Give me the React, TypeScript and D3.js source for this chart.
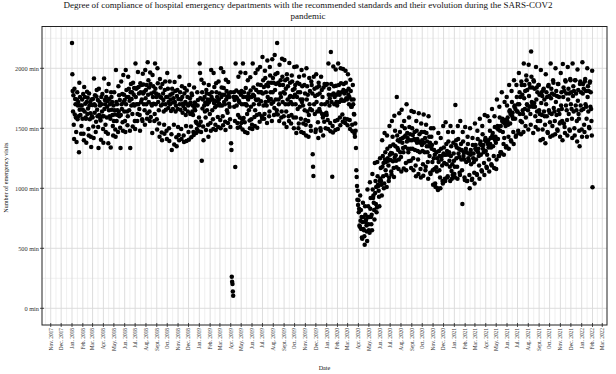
import React from "react";
import * as d3 from "d3";

// Daily emergency visits, one array per month (Jan..Dec)
const visits2018: number[][] = [
  [2210,1950,1810,1640,1775,1530,1410, 1830,1615,1745,1700,1590,1470,1385, 1740,1800,1575,1690,1720,1600,1300, 1880,1655,1760,1610,1690,1455,1520, 1690,1740,1580],
  [1655,1785,1455,1400, 1845,1640,1760,1705,1590,1580,1380, 1720,1805,1620,1755,1665,1495,1440, 1790,1690,1575,1720,1625,1430,1345, 1740,1600,1695],
  [1590,1745,1515,1420, 1915,1700,1630,1775,1690,1470,1555, 1765,1820,1655,1600,1735,1510,1335, 1830,1610,1720,1690,1580,1565,1405, 1760,1700,1640,1785,1600,1495],
  [1380, 1600,1915,1660,1735,1700,1530,1470, 1760,1810,1590,1680,1725,1455,1375, 1870,1650,1745,1600,1700,1580,1340, 1800,1760,1655,1720,1610,1520,1440, 1690],
  [1560,1800,1650,1615,1490,1430, 1985,1720,1560,1700,1650,1610,1470, 1850,1640,1775,1600,1735,1505,1335, 1610,1890,1700,1660,1785,1550,1480, 1945,1720,1780,1640],
  [1735,1560,1470, 1985,1700,1820,1760,1640,1525,1600, 1930,1760,1830,1650,1730,1480,1335, 1800,1870,1690,1745,1800,1620,1515, 1880,1700,1780,1835,1690,1560],
  [1495, 2040,1760,1830,1700,1835,1560,1620, 1970,1700,1845,1790,1660,1610,1480, 1875,1800,1720,1860,1740,1575,1560, 1955,1790,1865,1700,1805,1650,1530, 1985,1750],
  [1820,1700,1860,1580,1625, 2050,1780,1900,1720,1840,1640,1560, 1965,1870,1595,1790,1700,1690,1460, 1945,1760,1850,1705,1800,1560,1620, 2040,1830,1700,1790,1760],
  [1575,1490, 2000,1875,1720,1780,1650,1540,1430, 1910,1760,1840,1690,1755,1465,1400, 1870,1700,1790,1735,1640,1530,1455, 1820,1890,1700,1655,1760,1480,1410],
  [1960,1760,1830,1670,1720,1500,1395, 1890,1700,1780,1740,1645,1450,1320, 1830,1790,1660,1715,1750,1530,1365, 1885,1720,1810,1640,1690,1425,1350, 1770,1820,1660],
  [1510,1745,1445,1400, 1930,1700,1800,1655,1740,1495,1410, 1850,1760,1630,1705,1685,1440,1385, 1790,1835,1660,1720,1610,1520,1395, 1815,1700,1760,1640,1690],
  [1470,1405, 1860,1700,1750,1620,1715,1515,1425, 1790,1775,1640,1690,1610,1470,1445, 1840,1670,1715,1650,1700,1555,1460, 1545,1495,1800,1690,1735,1530,1475, 1590],
];

const visits2019: number[][] = [
  [1525,2040,1960,1750,1555,1470, 1905,1230,1800,1665,1740,1515,1400, 1875,1690,1760,1640,1715,1590,1485, 1820,1790,1650,1700,1740,1530,1430, 1860,1720,1785,1620],
  [1735,1545,1480, 1985,1760,1800,1650,1740,1575,1495, 1960,1710,1845,1730,1675,1530,1485, 1875,1800,1690,1760,1725,1595,1510, 1890,1740,1705,1790],
  [1690,1570,1500, 2000,1760,1840,1690,1780,1600,1525, 1970,1835,1720,1780,1700,1555,1485, 1905,1740,1810,1650,1760,1630,1545, 1885,1790,1705,1760,1680,1575,1510],
  [1800,1375,1320,263,222,202,139, 105,1760,1800,1680,1735,1560,1177, 2040,1760,1815,1690,1750,1545,1505, 1610,1930,1730,1800,1715,1590,1510, 1965,1780],
  [1545,1810,1700,1575,1490, 2040,1760,1585,1800,1700,1550,1470, 1960,1835,1700,1760,1690,1620,1460, 1900,1740,1790,1650,1760,1565,1500, 1925,1815,1680,1575,1760],
  [1530,1495, 2040,1780,1840,1700,1770,1595,1520, 1650,1960,1740,1820,1735,1610,1505, 1990,1865,1740,1800,1700,1620,1555, 2010,1800,1860,1725,1800,1600,1580],
  [2095,1790,1900,1690,1845,1580,1620, 1980,1920,1720,1800,1860,1690,1545, 2065,1760,1850,1880,1730,1600,1640, 2010,1940,1800,1745,1880,1705,1560, 2075,1800,1920],
  [1720,1880,1610,1670, 2110,1820,1950,1740,1870,1620,1650, 2210,1960,1615,1880,1740,1700,1560, 2030,1860,1790,1900,1760,1590,1640, 2080,1930,1720,1860,1800,1600],
  [1540, 2070,1790,1900,1700,1830,1640,1510, 1950,1910,1740,1850,1700,1600,1560, 2045,1760,1880,1770,1720,1540,1610, 1940,1890,1700,1820,1760,1590,1500, 2010],
  [1830,1780,1860,1700,1590,1460, 2015,1760,1880,1660,1800,1500,1540, 1930,1870,1680,1800,1740,1580,1470, 1985,1720,1850,1740,1690,1540,1460, 1940,1860,1650,1790],
  [1570,1530,1440, 2000,1740,1850,1640,1780,1560,1430, 1610,1920,1700,1810,1660,1520,1480, 1890,1860,1650,1790,1283,1180,1102, 1930,1700,1830,1620,1770,1470],
  [1490, 1950,1720,1840,1640,1780,1550,1420, 1880,1850,1660,1790,1640,1500,1480, 1930,1700,1820,1620,1760,1590,1440, 1840,1610,1555,1870,1700,1620,1500, 1860,1630],
];

const visits2020: number[][] = [
  [1610,1870,1720,1570,1495, 2040,1780,1830,1690,1750,1545,1475, 2135,1870,1720,1780,1097,1520,1465, 2015,1790,1850,1700,1760,1560,1485, 1990,1855,1720,1780,1690],
  [1570,1495, 2040,1800,1860,1720,1780,1590,1525, 2000,1875,1740,1800,1730,1615,1555, 1995,1820,1870,1730,1790,1580,1545, 1980,1880,1750,1810,1740,1575],
  [1525, 1950,1780,1830,1700,1760,1570,1495, 1905,1810,1680,1740,1680,1530,1475, 1860,1700,1740,1620,1615,1455,1430, 1540,1480,1335,1150,1095,1020,905, 980,860],
  [900,800,830,690,680, 940,730,820,660,760,590,580, 720,880,660,760,650,600,530, 850,780,720,740,690,640,560, 990,760,850,700],
  [650,760,630, 1050,830,920,760,700,780,650, 1120,990,920,940,880,820,740, 1210,960,1060,870,1010,800,840, 1220,1100,1030,1020,980,930,850],
  [1060,1250,1080,1170,1060,1030,940, 1400,1180,1270,1100,1210,1000,1040, 1460,1240,1300,1150,1220,1110,1010, 1440,1330,1250,1230,1190,1060,1090, 1520,1280],
  [1350,1235,1295,1140,1115, 1560,1290,1430,1225,1365,1170,1095, 1605,1255,1480,1350,1275,1230,1175, 1760,1440,1335,1400,1320,1160,1240, 1625,1390,1470,1300,1410],
  [1260,1140, 1655,1520,1380,1420,1335,1300,1165, 1560,1430,1500,1345,1440,1210,1150, 1700,1390,1460,1420,1330,1300,1225, 1590,1510,1400,1450,1330,1230,1170, 1645],
  [1400,1500,1330,1445,1250,1150, 1635,1410,1470,1320,1400,1190,1100, 1560,1480,1380,1410,1310,1240,1120, 1625,1390,1450,1300,1380,1160,1090, 1540,1470,1360],
  [1400,1310,1200,1105, 1615,1380,1470,1300,1420,1150,1180, 1530,1460,1350,1390,1300,1220,1080, 1600,1350,1430,1270,1380,1130,1120, 1500,1430,1330,1360,1220,1150],
  [1030, 1500,1250,1320,1160,1280,1040,1010, 1380,1175,1300,1140,1250,1000,985, 1460,1220,1310,1150,1270,1090,1000, 1420,1330,1240,1270,1190,1060,1040, 1520],
  [1290,1340,1210,1280,1080,1060, 1550,1280,1370,1200,1310,1090,1100, 1470,1390,1280,1300,1230,1180,1060, 1520,1270,1350,1145,1080,1200,1110, 1470,1380,1290,1230],
];

const visits2021: number[][] = [
  [1120,1180,1090, 1695,1360,1400,1250,1340,1180,1080, 1520,1410,1290,1330,1260,1130,1110, 1560,1320,1370,1240,1320,1150,870, 1470,1390,1270,1300,1240,1090,1070],
  [1510,1300,1330,1220,1300,1060,1060, 1430,1370,1250,1290,1230,1110,1000, 1500,1280,1320,1200,1290,1070,1080, 1420,1360,1250,1290,1220,1130,1040],
  [1540,1330,1360,1240,1320,1120,1110, 1480,1410,1300,1330,1270,1190,1080, 1580,1370,1390,1280,1360,1150,1140, 1520,1450,1330,1360,1300,1210,1110, 1610,1400,1420],
  [1310,1390,1180,1170, 1280,1600,1370,1400,1340,1240,1140, 1560,1480,1370,1420,1340,1200,1190, 1660,1440,1460,1350,1420,1270,1170, 1600,1510,1400,1430,1380],
  [1160,1240, 1740,1500,1520,1410,1490,1270,1270, 1680,1590,1480,1300,1520,1300,1290, 1800,1560,1580,1470,1550,1370,1280, 1420,1720,1540,1570,1520,1340,1350, 1760],
  [1690,1560,1590,1530,1430,1330, 1860,1640,1650,1540,1620,1400,1390, 1810,1720,1600,1630,1580,1470,1370, 1900,1680,1690,1580,1660,1430,1440, 1860,1760,1640],
  [1640,1700,1480,1460, 1960,1700,1800,1620,1760,1560,1450, 1890,1860,1550,1780,1650,1620,1470, 2040,1750,1860,1660,1810,1520,1590, 1940,1900,1700,1820,1690,1650],
  [1490, 2030,1770,1870,1680,1840,1620,1530, 2140,1930,1720,1840,1700,1680,1460, 1900,1890,1710,1830,1680,1600,1510, 2010,1740,1840,1640,1800,1560,1490, 1860,1860],
  [1650,1780,1620,1560,1400, 1985,1710,1800,1610,1770,1490,1410, 1820,1830,1640,1740,1600,1530,1375, 1950,1700,1800,1600,1760,1470,1460, 1850,1860,1650,1770],
  [1630,1550,1430, 2040,1750,1830,1620,1790,1520,1440, 1900,1880,1670,1780,1640,1560,1450, 2000,1720,1810,1610,1770,1490,1480, 1870,1870,1650,1760,1620,1540,1430],
  [1550,1960,1690,1800,1660,1560,1400, 2035,1760,1840,1540,1810,1510,1460, 1900,1890,1690,1790,1650,1570,1440, 2010,1740,1830,1620,1790,1490,1480, 1910,1900],
  [1700,1800,1660,1580,1420, 2040,1770,1850,1640,1810,1500,1440, 1900,1900,1690,1790,1650,1560,1390, 1990,1730,1820,1620,1580,1480,1350, 1870,1890,1690,1800,1650],
];

const visits2022: number[][] = [
  [1490,1430, 2050,1790,1870,1660,1830,1530,1470, 1890,1910,1700,1810,1680,1580,1430, 2000,1760,1850,1640,1810,1510,1500, 1880,1890,1680,1800,1660,1560,1440, 1980],
  [1008],
];

const monthAbbr = ["Jan.", "Feb.", "Mar.", "Apr.", "May.", "Jun.", "Jul.", "Aug.", "Sept.", "Oct.", "Nov.", "Dec."];
const yTicks = [0, 500, 1000, 1500, 2000];
const yMinor = [250, 750, 1250, 1750, 2250];
const titleLines = [
  "Degree of compliance of hospital emergency departments with the recommended standards and their evolution during the SARS-COV2",
  "pandemic",
];

const W = 616, H = 374;
const P = { left: 42, right: 607, top: 26.5, bottom: 325 };
const FONT = "'Liberation Serif', 'Times New Roman', serif";

export default function App() {
  const yearSeries: [number, number[][]][] = [
    [2018, visits2018], [2019, visits2019], [2020, visits2020], [2021, visits2021], [2022, visits2022],
  ];
  const points = yearSeries.flatMap(([yr, months]) =>
    months.flatMap((vals, m) => vals.map((v, d) => ({ date: new Date(yr, m, d + 1), value: v })))
  );

  const x = d3.scaleTime().domain([new Date(2018, 0, 1), new Date(2022, 1, 1)]).range([72, 592.5]);
  const y = d3.scaleLinear().domain([0, 2000]).range([308.3, 68.3]);

  const months = d3.timeMonth.range(new Date(2017, 10, 1), new Date(2022, 2, 2));
  const minorX: Date[] = [];
  for (let i = 0; i < months.length - 1; i++) {
    minorX.push(new Date((months[i].getTime() + months[i + 1].getTime()) / 2));
  }
  const lastM = months[months.length - 1];
  minorX.push(new Date(lastM.getTime() + 15 * 86400000));
  const firstM = months[0];
  minorX.push(new Date(firstM.getTime() - 15 * 86400000));

  return (
    <svg width={W} height={H} style={{ position: "absolute", left: 0, top: 0, background: "#fff" }} fontFamily={FONT}>
      <rect x={0} y={0} width={W} height={H} fill="#fff" />
      {titleLines.map((t, i) => (
        <text key={i} x={308} y={7.5 + i * 11} textAnchor="middle" fontSize={9} fill="#111">{t}</text>
      ))}
      <rect x={P.left} y={P.top} width={P.right - P.left} height={P.bottom - P.top} fill="#fff" />
      <g>
        {minorX.filter(d => x(d) > P.left && x(d) < P.right).map((d, i) => (
          <line key={"mx" + i} x1={x(d)} x2={x(d)} y1={P.top} y2={P.bottom} stroke="#e6e6e6" strokeWidth={0.6} />
        ))}
        {yMinor.map((v, i) => (
          <line key={"my" + i} x1={P.left} x2={P.right} y1={y(v)} y2={y(v)} stroke="#e6e6e6" strokeWidth={0.6} />
        ))}
        {months.map((d, i) => (
          <line key={"gx" + i} x1={x(d)} x2={x(d)} y1={P.top} y2={P.bottom} stroke="#d9d9d9" strokeWidth={0.9} />
        ))}
        {yTicks.map((v, i) => (
          <line key={"gy" + i} x1={P.left} x2={P.right} y1={y(v)} y2={y(v)} stroke="#d9d9d9" strokeWidth={0.9} />
        ))}
      </g>
      <g>
        {points.map((p, i) => (
          <circle key={i} cx={x(p.date)} cy={y(p.value)} r={2.25} fill="#000" />
        ))}
      </g>
      <rect x={P.left} y={P.top} width={P.right - P.left} height={P.bottom - P.top} fill="none" stroke="#222" strokeWidth={1} />
      {yTicks.map((v, i) => (
        <g key={"yt" + i}>
          <line x1={P.left - 2} x2={P.left + 2} y1={y(v)} y2={y(v)} stroke="#222" strokeWidth={0.8} />
          <text x={P.left - 3} y={y(v)} dy="0.35em" textAnchor="end" fontSize={6.3} fill="#333">{`${v} min`}</text>
        </g>
      ))}
      {months.map((d, i) => (
        <g key={"xt" + i}>
          <line x1={x(d)} x2={x(d)} y1={P.bottom - 2} y2={P.bottom + 2} stroke="#222" strokeWidth={0.8} />
          <text transform={`translate(${x(d)},${P.bottom + 3}) rotate(-90)`} dy="0.35em" textAnchor="end" fontSize={5.4} fill="#333">
            {`${monthAbbr[d.getMonth()]} ${d.getFullYear()}`}
          </text>
        </g>
      ))}
      <text x={(P.left + P.right) / 2} y={370} textAnchor="middle" fontSize={6.2} fill="#111">Date</text>
      <text transform={`translate(7.5,${(P.top + P.bottom) / 2 + 2}) rotate(-90)`} textAnchor="middle" fontSize={6.2} fill="#111">Number of emergency visits</text>
    </svg>
  );
}
